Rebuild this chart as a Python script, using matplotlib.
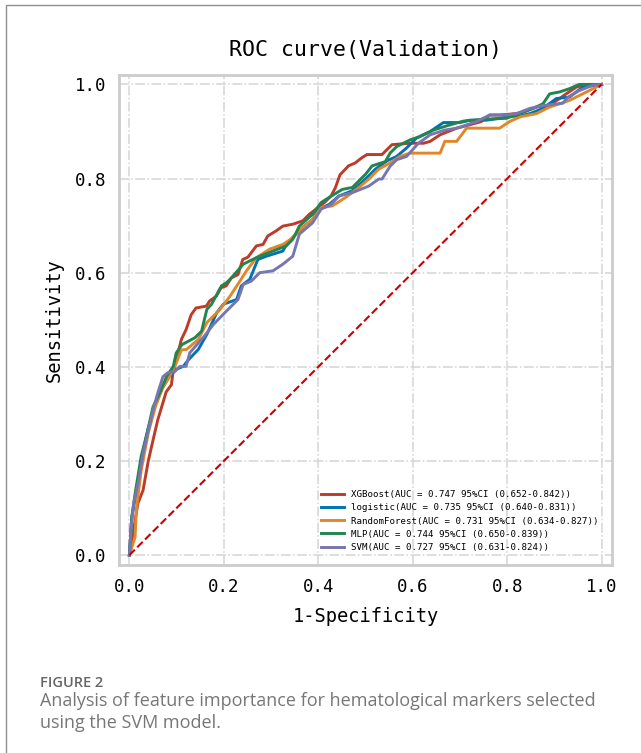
import matplotlib
matplotlib.use("Agg")
import matplotlib.pyplot as plt
from matplotlib.patches import Rectangle

plt.rcParams['font.family'] = ['DejaVu Sans Mono']

# ROC points (fpr, tpr)
xgb_fpr = [0, 0.01, 0.018, 0.029, 0.04, 0.05, 0.06, 0.078, 0.089, 0.092, 0.103, 0.110, 0.120, 0.131,
           0.141, 0.163, 0.170, 0.184, 0.194, 0.205, 0.216, 0.230, 0.240, 0.251, 0.269, 0.283, 0.293,
           0.311, 0.325, 0.346, 0.367, 0.381, 0.395, 0.413, 0.427, 0.436, 0.446, 0.464, 0.478, 0.492,
           0.503, 0.535, 0.556, 0.594, 0.623, 0.637, 0.658, 0.693, 0.720, 0.745, 0.763, 0.784, 0.820,
           0.834, 0.862, 0.890, 0.911, 0.925, 0.946, 0.960, 1.0]
xgb_tpr = [0, 0.06, 0.11, 0.138, 0.2, 0.244, 0.287, 0.347, 0.362, 0.386, 0.429, 0.458, 0.479, 0.511,
           0.525, 0.529, 0.540, 0.550, 0.568, 0.572, 0.589, 0.596, 0.628, 0.633, 0.657, 0.660, 0.678,
           0.689, 0.699, 0.703, 0.710, 0.724, 0.735, 0.749, 0.763, 0.780, 0.808, 0.827, 0.833, 0.844,
           0.851, 0.851, 0.872, 0.875, 0.875, 0.879, 0.893, 0.907, 0.914, 0.921, 0.935, 0.935, 0.938,
           0.942, 0.952, 0.956, 0.970, 0.980, 0.994, 0.998, 1.0]

lr_fpr = [0, 0.005, 0.012, 0.025, 0.04, 0.055, 0.07, 0.085, 0.1, 0.114, 0.125, 0.146, 0.164, 0.185,
          0.199, 0.227, 0.237, 0.255, 0.272, 0.290, 0.325, 0.335, 0.353, 0.367, 0.388, 0.402, 0.423,
          0.444, 0.472, 0.500, 0.521, 0.546, 0.566, 0.587, 0.608, 0.637, 0.665, 0.700, 0.721, 0.756,
          0.784, 0.805, 0.827, 0.848, 0.876, 0.904, 0.932, 0.946, 0.960, 1.0]
lr_tpr = [0, 0.08, 0.12, 0.2, 0.27, 0.32, 0.355, 0.38, 0.395, 0.401, 0.415, 0.437, 0.469, 0.515,
          0.533, 0.543, 0.572, 0.586, 0.628, 0.635, 0.646, 0.664, 0.682, 0.696, 0.713, 0.735, 0.745,
          0.763, 0.774, 0.799, 0.820, 0.838, 0.847, 0.865, 0.886, 0.900, 0.919, 0.919, 0.924, 0.924,
          0.928, 0.932, 0.933, 0.938, 0.949, 0.970, 0.973, 0.984, 0.994, 1.0]

rf_fpr = [0, 0.012, 0.015, 0.025, 0.04, 0.055, 0.07, 0.085, 0.1, 0.110, 0.121, 0.146, 0.164, 0.192,
          0.213, 0.234, 0.248, 0.269, 0.297, 0.325, 0.346, 0.367, 0.388, 0.406, 0.430, 0.458, 0.486,
          0.507, 0.528, 0.552, 0.573, 0.594, 0.658, 0.668, 0.693, 0.714, 0.784, 0.805, 0.827, 0.862,
          0.890, 0.911, 0.932, 0.960, 0.988, 1.0]
rf_tpr = [0, 0.038, 0.1, 0.18, 0.26, 0.315, 0.355, 0.38, 0.41, 0.436, 0.437, 0.458, 0.494, 0.522,
          0.550, 0.582, 0.604, 0.632, 0.650, 0.660, 0.674, 0.696, 0.713, 0.738, 0.742, 0.760, 0.781,
          0.799, 0.820, 0.833, 0.847, 0.854, 0.854, 0.879, 0.879, 0.907, 0.907, 0.921, 0.931, 0.938,
          0.952, 0.959, 0.966, 0.980, 0.994, 1.0]

mlp_fpr = [0, 0.005, 0.012, 0.025, 0.04, 0.05, 0.064, 0.079, 0.093, 0.099, 0.111, 0.139, 0.153, 0.164,
           0.174, 0.195, 0.206, 0.216, 0.241, 0.269, 0.304, 0.332, 0.346, 0.360, 0.388, 0.406, 0.423,
           0.451, 0.472, 0.500, 0.514, 0.542, 0.552, 0.566, 0.594, 0.615, 0.644, 0.672, 0.707, 0.749,
           0.798, 0.827, 0.855, 0.876, 0.890, 0.911, 0.932, 0.953, 1.0]
mlp_tpr = [0, 0.08, 0.13, 0.21, 0.27, 0.315, 0.344, 0.38, 0.401, 0.429, 0.447, 0.462, 0.476, 0.522,
           0.533, 0.572, 0.579, 0.589, 0.618, 0.632, 0.646, 0.657, 0.671, 0.699, 0.724, 0.749, 0.760,
           0.777, 0.781, 0.809, 0.827, 0.836, 0.854, 0.868, 0.882, 0.889, 0.903, 0.912, 0.922, 0.926,
           0.928, 0.938, 0.949, 0.959, 0.980, 0.984, 0.991, 1.0, 1.0]

svm_fpr = [0, 0.004, 0.009, 0.018, 0.029, 0.05, 0.06, 0.071, 0.082, 0.096, 0.107, 0.12, 0.128, 0.156,
           0.178, 0.202, 0.230, 0.241, 0.258, 0.276, 0.304, 0.325, 0.346, 0.360, 0.388, 0.406, 0.427,
           0.444, 0.472, 0.507, 0.528, 0.535, 0.552, 0.566, 0.587, 0.612, 0.637, 0.668, 0.693, 0.735,
           0.763, 0.798, 0.820, 0.848, 0.876, 0.918, 0.929, 0.953, 0.981, 1.0]
svm_tpr = [0, 0.06, 0.11, 0.15, 0.216, 0.308, 0.344, 0.379, 0.388, 0.390, 0.401, 0.401, 0.430, 0.462,
           0.490, 0.515, 0.543, 0.575, 0.582, 0.600, 0.604, 0.618, 0.635, 0.682, 0.706, 0.735, 0.745,
           0.763, 0.770, 0.784, 0.799, 0.799, 0.826, 0.840, 0.847, 0.875, 0.893, 0.903, 0.907, 0.921,
           0.935, 0.935, 0.938, 0.949, 0.955, 0.960, 0.973, 0.987, 0.998, 1.0]

labels = ['XGBoost(AUC = 0.747 95%CI (0.652-0.842))',
          'logistic(AUC = 0.735 95%CI (0.640-0.831))',
          'RandomForest(AUC = 0.731 95%CI (0.634-0.827))',
          'MLP(AUC = 0.744 95%CI (0.650-0.839))',
          'SVM(AUC = 0.727 95%CI (0.631-0.824))']
colors = ['#BC3C29', '#0072B5', '#E18727', '#20854E', '#7876B1']
curves = [(xgb_fpr, xgb_tpr), (lr_fpr, lr_tpr), (rf_fpr, rf_tpr), (mlp_fpr, mlp_tpr), (svm_fpr, svm_tpr)]
chance = [0, 1]
ticks = [0.0, 0.2, 0.4, 0.6, 0.8, 1.0]

fig = plt.figure(figsize=(6.41, 7.53), dpi=100)
ax = fig.add_axes([119 / 641, 1 - 565 / 753, 493 / 641, 490 / 753])

for (f, t), c, lab in zip(curves, colors, labels):
    ax.plot(f, t, color=c, lw=2.1, label=lab)
ax.plot(chance, chance, color='#CC0000', ls='--', lw=1.5)

ax.set_xlim(-0.022, 1.022)
ax.set_ylim(-0.021, 1.02)
ax.set_xticks(ticks)
ax.set_yticks(ticks)
ax.tick_params(length=0, labelsize=12.5, pad=9)
ax.grid(True, color='#d4d4d4', ls='-.', lw=1.1)
for s in ax.spines.values():
    s.set_color('#cccccc')
    s.set_linewidth(2)

ax.set_title('ROC curve(Validation)', fontsize=15.5, pad=14)
ax.set_xlabel('1-Specificity', fontsize=13.5, labelpad=8)
ax.set_ylabel('Sensitivity', fontsize=13.5, labelpad=8)

ax.legend(loc='lower right', bbox_to_anchor=(0.988, 0.012), frameon=False, fontsize=6.6,
          labelspacing=0.45, handlelength=2.6, handletextpad=0.75, borderpad=0.3)

# page frame and caption
fig.patches.append(Rectangle((5.5 / 641, -0.1), 1.2, 1.1 - 5.5 / 753, transform=fig.transFigure,
                             fill=False, ec='#8f8f8f', lw=1))
fig.text(40 / 641, 1 - 683 / 753, 'FIGURE 2', fontsize=10.5, color='#666666', family='Open Sans',
         fontweight='semibold', va='center')
fig.text(40 / 641, 1 - 712 / 753,
         'Analysis of feature importance for hematological markers selected\nusing the SVM model.',
         fontsize=13, color='#777777', family='Open Sans', va='center', linespacing=1.22)

fig.savefig('out.png', dpi=100)
